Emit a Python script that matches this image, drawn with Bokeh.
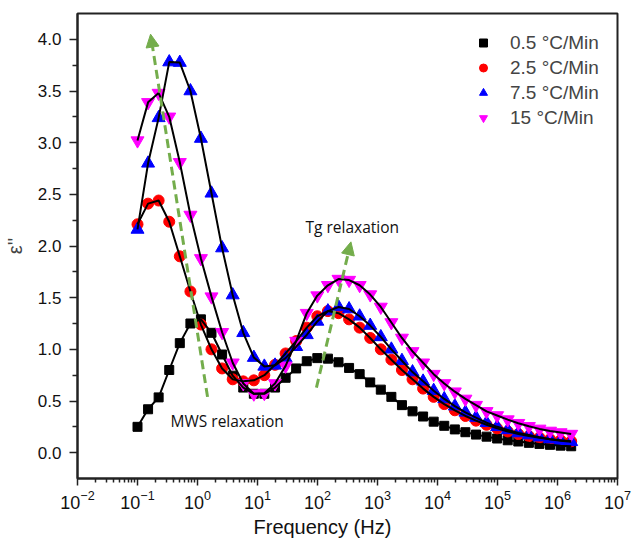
from bokeh.plotting import figure
from bokeh.models import (Range1d, FixedTicker, Legend, LegendItem, Label, Arrow,
                          NormalHead, PrintfTickFormatter, LogTickFormatter, Title)
from bokeh.embed import file_html
from bokeh.resources import INLINE

# ---------------- data ----------------
freq = [0.1, 0.150, 0.225, 0.338, 0.507, 0.762, 1.14, 1.71, 2.57, 3.86, 5.79, 8.69,
        13.0, 19.6, 29.4, 44.1, 66.2, 99.3, 149, 224, 336, 504, 756, 1135, 1703, 2555,
        3835, 5754, 8634, 12960, 19450, 29180, 43790, 65710, 98610, 148000, 222100,
        333300, 500100, 750500, 1126000, 1690000]

eps_05 = [0.25, 0.42, 0.535, 0.80, 1.06, 1.25, 1.29, 1.16, 0.95, 0.745, 0.63, 0.57,
          0.57, 0.63, 0.725, 0.815, 0.885, 0.915, 0.91, 0.875, 0.82, 0.76, 0.68, 0.61,
          0.54, 0.46, 0.40, 0.35, 0.30, 0.26, 0.225, 0.198, 0.175, 0.155, 0.137, 0.12,
          0.108, 0.095, 0.085, 0.076, 0.068, 0.062]

eps_25 = [2.21, 2.41, 2.44, 2.235, 1.90, 1.56, 1.24, 1.00, 0.815, 0.71, 0.69, 0.70,
          0.75, 0.85, 0.96, 1.08, 1.21, 1.32, 1.37, 1.35, 1.29, 1.21, 1.11, 1.00,
          0.90, 0.80, 0.71, 0.62, 0.54, 0.47, 0.41, 0.355, 0.31, 0.27, 0.235, 0.205,
          0.18, 0.16, 0.145, 0.13, 0.12, 0.11]

eps_75 = [2.16, 2.80, 3.24, 3.78, 3.775, 3.50, 3.04, 2.51, 1.98, 1.525, 1.16, 0.92,
          0.835, 0.845, 0.915, 1.025, 1.14, 1.27, 1.37, 1.41, 1.39, 1.32, 1.23, 1.12,
          1.00, 0.89, 0.78, 0.69, 0.60, 0.52, 0.45, 0.39, 0.34, 0.29, 0.25, 0.22,
          0.19, 0.17, 0.15, 0.13, 0.115, 0.105]

eps_15 = [3.02, 3.39, 3.48, 3.25, 2.81, 2.30, 1.88, 1.51, 1.165, 0.87, 0.67, 0.57,
          0.575, 0.67, 0.84, 1.08, 1.35, 1.52, 1.62, 1.68, 1.67, 1.62, 1.53, 1.41,
          1.26, 1.11, 0.98, 0.87, 0.76, 0.67, 0.59, 0.52, 0.46, 0.40, 0.36, 0.32,
          0.285, 0.255, 0.23, 0.21, 0.195, 0.18]

labels = ["0.5 °C/Min", "2.5 °C/Min", "7.5 °C/Min", "15 °C/Min"]
markers = ["square", "circle", "triangle", "inverted_triangle"]
colors = ["#000000", "#ff0000", "#0000ff", "#ff00ff"]
sizes = [9, 11, 13, 13]

x_ticks = [1e-2, 1e-1, 1e0, 1e1, 1e2, 1e3, 1e4, 1e5, 1e6, 1e7]
y_ticks = [0.0, 0.5, 1.0, 1.5, 2.0, 2.5, 3.0, 3.5, 4.0]

# annotation positions (data units)
mws_arrow = (1.47, 0.54, 0.165, 4.05)
tg_arrow = (96.0, 0.63, 361.0, 2.04)
mws_text = (0.355, 0.31, "MWS relaxation")
tg_text = (63.1, 2.18, "Tg relaxation")
x_title = "Frequency (Hz)"

FONT = "Liberation Sans"
AXC = "#222222"
GREEN = "#74ad4c"

p = figure(width=632, height=541, x_axis_type="log",
           x_range=Range1d(1e-2, 1e7), y_range=Range1d(-0.25, 4.25),
           output_backend="svg", toolbar_location=None,
           min_border_left=77, min_border_right=15, min_border_top=13,
           min_border_bottom=63)
p.xgrid.visible = False
p.ygrid.visible = False
p.outline_line_color = AXC
p.outline_line_width = 2
p.background_fill_color = "white"
p.border_fill_color = "white"

series = [eps_05, eps_25, eps_75, eps_15]
scat = []
for vals, mk, c, s in zip(series, markers, colors, sizes):
    r = p.scatter(freq, vals, marker=mk, size=s, fill_color=c, line_color=c)
    scat.append(r)
for vals in series:
    p.line(freq, vals, line_color="black", line_width=2)

# axes
minor_x = [m * 10.0 ** k for k in range(-2, 7) for m in range(2, 10)]
p.xaxis.ticker = FixedTicker(ticks=x_ticks, minor_ticks=minor_x)
p.xaxis.formatter = LogTickFormatter()
p.yaxis.ticker = FixedTicker(ticks=y_ticks,
                             minor_ticks=[0.25, 0.75, 1.25, 1.75, 2.25, 2.75, 3.25, 3.75])
p.yaxis.formatter = PrintfTickFormatter(format="%.1f")
for ax in (p.xaxis[0], p.yaxis[0]):
    ax.axis_line_width = 2
    ax.axis_line_color = AXC
    ax.major_tick_line_color = AXC
    ax.minor_tick_line_color = AXC
    ax.major_tick_line_width = 1.5
    ax.minor_tick_line_width = 1.5
    ax.major_tick_in = 0
    ax.minor_tick_in = 0
    ax.major_label_text_font = FONT
    ax.major_label_text_font_size = "17px"
    ax.major_label_text_color = "#111111"
p.yaxis.major_tick_out = 8
p.yaxis.minor_tick_out = 5
p.yaxis.major_label_standoff = 8
p.xaxis.major_tick_out = 7
p.xaxis.minor_tick_out = 4
p.xaxis.major_label_standoff = 4
p.xaxis.major_label_text_font_size = "18px"

p.yaxis.axis_label = "ε''"
p.yaxis.axis_label_text_font = FONT
p.yaxis.axis_label_text_font_size = "20px"
p.yaxis.axis_label_text_font_style = "normal"
p.yaxis.axis_label_standoff = 9

p.add_layout(Title(text=x_title, align="left", offset=176, standoff=4,
                   text_font=FONT, text_font_size="20px",
                   text_font_style="normal", text_color="#111111"), "below")

# arrows
for (x0, y0, x1, y1) in (mws_arrow, tg_arrow):
    p.add_layout(Arrow(end=NormalHead(size=13, fill_color=GREEN, line_color=GREEN),
                       x_start=x0, y_start=y0, x_end=x1, y_end=y1,
                       line_color=GREEN, line_width=3, line_dash="9 5"))

for (tx, ty, tt) in (mws_text, tg_text):
    p.add_layout(Label(x=tx, y=ty, text=tt, text_font="Open Sans",
                       text_font_size="15.5px", text_align="left",
                       text_baseline="middle", text_color="#111111"))

legend = Legend(items=[LegendItem(label=l, renderers=[r]) for l, r in zip(labels, scat)],
                location=(396, 348))
legend.label_text_font = FONT
legend.label_text_font_size = "19px"
legend.glyph_width = 20
legend.glyph_height = 25
legend.label_height = 25
legend.label_standoff = 17
legend.spacing = 0
legend.padding = 0
legend.margin = 0
legend.border_line_alpha = 0
legend.background_fill_alpha = 0
p.add_layout(legend)

open("out.html", "w").write(file_html(p, INLINE))
